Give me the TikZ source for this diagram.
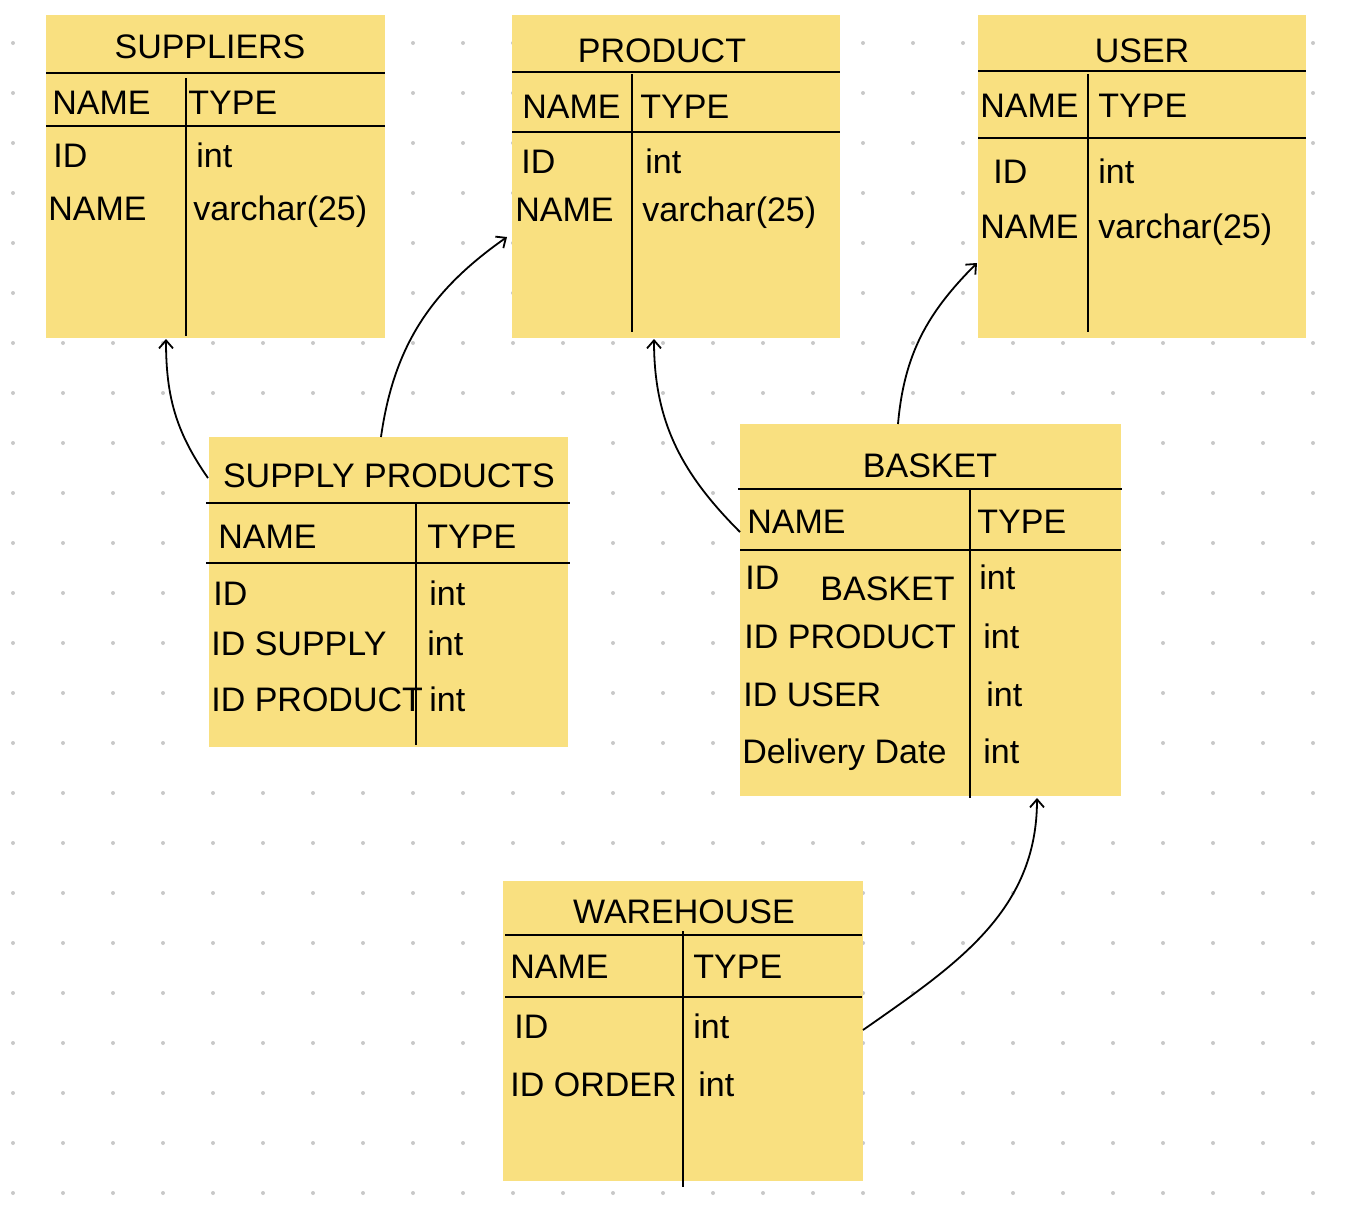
\documentclass[tikz,border=0pt]{standalone}
\usepackage{fontspec}
\setmainfont{Liberation Sans}
\usetikzlibrary{arrows.meta,fit}
\definecolor{notepad}{RGB}{249,224,128}
\definecolor{dotgray}{RGB}{200,200,200}
\tikzset{
  tbl/.style={fill=notepad, draw=none, inner sep=0pt},
  cell/.style={anchor=base west, inner sep=0pt, font=\fontsize{17}{20}\selectfont},
  title/.style={cell, anchor=base},
  rule/.style={line width=1pt},
  link/.style={line width=0.9pt, -{Straight Barb[length=4pt,width=7pt]}}
}
\begin{document}
\begin{tikzpicture}[x=0.5pt,y=-0.5pt]
  \useasboundingbox (0,0) rectangle (1354,1210);
  \foreach \i in {0,...,26}
    \foreach \j in {0,...,23}
      \fill[dotgray] (13+50*\i,43+50*\j) circle[radius=2];

  % tables
  \node[tbl, fit={(46,15) (385,338)}] (suppliers) {};
  \node[tbl, fit={(512,15) (840,338)}] (product) {};
  \node[tbl, fit={(978,15) (1306,338)}] (user) {};
  \node[tbl, fit={(209,437) (568,747)}] (supply) {};
  \node[tbl, fit={(740,424) (1121,796)}] (basket) {};
  \node[tbl, fit={(503,881) (863,1181)}] (warehouse) {};

  \draw[rule] (46,73) -- (385,73) (46,126) -- (385,126) (186,78) -- (186,336);
  \draw[rule] (512,72) -- (840,72) (512,132) -- (840,132) (632,74) -- (632,332);
  \draw[rule] (978,71) -- (1306,71) (978,138) -- (1306,138) (1088,74) -- (1088,332);
  \draw[rule] (206,503) -- (570,503) (206,563) -- (570,563) (416,503) -- (416,745);
  \draw[rule] (738,489) -- (1122,489) (740,550) -- (1121,550) (970,489) -- (970,798);
  \draw[rule] (505,935) -- (862,935) (505,997) -- (862,997) (683,931) -- (683,1187);

  \node[title] (suppliers-title) at (210,58) {SUPPLIERS};
  \foreach \x/\y/\t [count=\i] in {52/114/NAME, 188/114/TYPE, 53/167/ID, 196/167/int,
      48/220/NAME, 193/220/varchar(25)}
    \node[cell] (suppliers-\i) at (\x,\y) {\t};

  \node[title] (product-title) at (662,62) {PRODUCT};
  \foreach \x/\y/\t [count=\i] in {522/118/NAME, 640/118/TYPE, 521/173/ID, 645/173/int,
      515/221/NAME, 642/221/varchar(25)}
    \node[cell] (product-\i) at (\x,\y) {\t};

  \node[title] (user-title) at (1142,62) {USER};
  \foreach \x/\y/\t [count=\i] in {980/117/NAME, 1098/117/TYPE, 993/183/ID, 1098/183/int,
      980/238/NAME, 1098/238/varchar(25)}
    \node[cell] (user-\i) at (\x,\y) {\t};

  \node[title] (supply-title) at (389,487) {SUPPLY PRODUCTS};
  \foreach \x/\y/\t [count=\i] in {218/548/NAME, 427/548/TYPE, 213/605/ID, 429/605/int,
      211/655/ID SUPPLY, 427/655/int, 211/711/ID PRODUCT, 429/711/int}
    \node[cell] (supply-\i) at (\x,\y) {\t};

  \node[title] (basket-title) at (930,477) {BASKET};
  \foreach \x/\y/\t [count=\i] in {747/533/NAME, 977/533/TYPE, 745/589/ID, 820/600/BASKET,
      979/589/int, 744/648/ID PRODUCT, 983/648/int, 743/706/ID USER, 986/706/int,
      742/763/Delivery Date, 983/763/int}
    \node[cell] (basket-\i) at (\x,\y) {\t};

  \node[title] (warehouse-title) at (684,923) {WAREHOUSE};
  \foreach \x/\y/\t [count=\i] in {510/978/NAME, 693/978/TYPE, 514/1038/ID, 693/1038/int,
      510/1096/ID ORDER, 698/1096/int}
    \node[cell] (warehouse-\i) at (\x,\y) {\t};

  % links
  \coordinate (suppliers-in) at (166,339);
  \coordinate (product-in) at (507,237);
  \coordinate (product-in2) at (654,339);
  \coordinate (user-in) at (977,263);
  \coordinate (basket-in) at (1037,798);
  \coordinate (supply-out) at (208,478);
  \coordinate (supply-out2) at (381,437);
  \coordinate (basket-out) at (740,532);
  \coordinate (basket-out2) at (898,424);
  \coordinate (warehouse-out) at (863,1030);

  \draw[link] (supply-out) to[out=125,in=270] (suppliers-in);
  \draw[link] (supply-out2) to[out=82,in=215] (product-in);
  \draw[link] (basket-out) to[out=135,in=270] (product-in2);
  \draw[link] (basket-out2) to[out=85,in=225] (user-in);
  \draw[link] (warehouse-out) to[out=35,in=270] (basket-in);
\end{tikzpicture}
\end{document}
